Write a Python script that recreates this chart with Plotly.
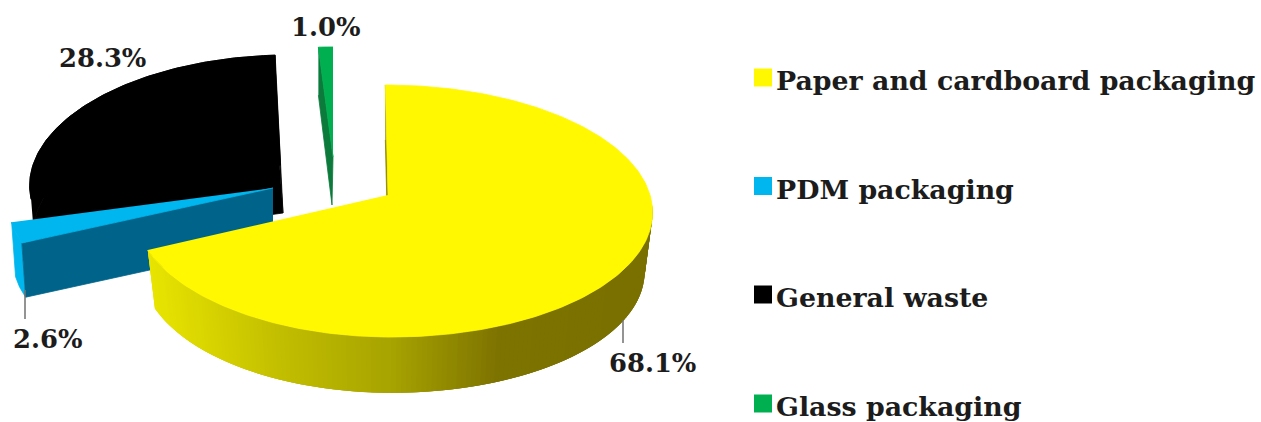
import numpy as np
import plotly.graph_objects as go

# Waste composition shares, in percent
categories = ["Paper and cardboard packaging", "PDM packaging", "General waste", "Glass packaging"]
shares = [68.1, 2.6, 28.3, 1.0]
top_colors = ["#FFF800", "#00B6EE", "#000000", "#00B050"]

WIDTH, HEIGHT = 1261, 422
KEY_FONT = dict(family="DejaVu Serif", size=26.8, color="#1c1c1c", weight="bold")
VALUE_FONT = dict(family="DejaVu Serif", size=25.8, color="#1c1c1c", weight="bold")

# Pie projection: a tilted disc seen in mild perspective
B, K = 124.0, 0.127
SLICE_GEOMETRY = [
    dict(ax=388, ay=195, left=252, right=262, lean=-3, wall=60, base=0.97),
    dict(ax=273, ay=188, left=262, right=262, lean=0, wall=55, base=0.985),
    dict(ax=281, ay=165, left=248, right=262, lean=9, wall=48, base=0.985),
    dict(ax=333, ay=157, left=262, right=262, lean=0, wall=48, base=1.0),
]

# Brightness of the paper slice's outer wall, left to right
WALL_X = [150, 275, 385, 494, 640]
WALL_RGB = [(232, 228, 0), (194, 190, 0), (168, 164, 0), (126, 116, 0), (122, 112, 0)]


def project(theta_deg, g, base=False):
    """Map a clockwise-from-top angle on the disc rim to chart coordinates."""
    t = np.radians(theta_deg)
    u, v = np.sin(t), np.cos(t)
    den = 1 + K * v
    px, py = u / den, v / den
    radius = np.where(px < 0, g["left"], g["right"])
    x = radius * px + g["lean"] * py
    y = -B * py
    if base:
        return g["ax"] + g["base"] * x, g["ay"] + g["wall"] + g["base"] * y
    return g["ax"] + x, g["ay"] + y


def polygon(fig, xs, ys, color, edge=0.8):
    fig.add_trace(go.Scatter(
        x=list(xs), y=list(ys), mode="lines", fill="toself", fillcolor=color,
        line=dict(color=color, width=edge), hoverinfo="skip", showlegend=False,
    ))


def arc(start, end, step=1.0):
    n = max(2, int(abs(end - start) / step) + 1)
    return np.linspace(start, end, n)


edges = np.concatenate([[0], np.cumsum(shares)]) * 3.6
spans = [(edges[i], edges[i + 1]) for i in range(len(shares))]

fig = go.Figure()

# General waste: the base, the wall and the top are the same black
g = SLICE_GEOMETRY[2]
a = arc(*spans[2])
tx, ty = project(a, g)
bx, by = project(a, g, base=True)
polygon(fig, np.r_[g["ax"] + 2, bx], np.r_[g["ay"] + g["wall"], by], top_colors[2])
polygon(fig, np.r_[tx, bx[::-1]], np.r_[ty, by[::-1]], top_colors[2])
polygon(fig, np.r_[g["ax"], tx], np.r_[g["ay"], ty], top_colors[2])
ex, ey = project(spans[2][1], g)
polygon(fig, [ex, g["ax"], g["ax"] + 2, ex], [ey, g["ay"], g["ay"] + g["wall"], ey + g["wall"]], top_colors[2])

# Glass: thin exploded sliver, its cut face shows under the top
g = SLICE_GEOMETRY[3]
a = arc(*spans[3])
tx, ty = project(a, g)
ex, ey = project(spans[3][0], g)
polygon(fig, [ex, g["ax"], g["ax"] - 1, ex], [ey, g["ay"], g["ay"] + g["wall"], ey + g["wall"]], "#0B7A3B")
polygon(fig, np.r_[g["ax"], tx], np.r_[g["ay"], ty], top_colors[3])

# PDM: outer wall, cut face, then top
g = SLICE_GEOMETRY[1]
a = arc(*spans[1])
tx, ty = project(a, g)
bx, by = project(a, g, base=True)
polygon(fig, np.r_[tx, bx[::-1]], np.r_[ty, by[::-1]], top_colors[1])
ex, ey = project(spans[1][0], g)
fx, fy = project(spans[1][0], g, base=True)
polygon(fig, [g["ax"], ex, fx, g["ax"]], [g["ay"], ey, fy, g["ay"] + g["wall"]], "#00648A")
polygon(fig, np.r_[g["ax"], tx], np.r_[g["ay"], ty], top_colors[1])

# Paper: shaded outer wall painted right to left in overlapping quads,
# thin far cut face, then top
g = SLICE_GEOMETRY[0]
sx, sy = project(spans[0][0], g)
polygon(fig, [sx, g["ax"], g["ax"], sx], [sy, g["ay"], g["ay"] + 55, sy + 55], "#8A8200")
steps = arc(94, spans[0][1], 1.0)
for a0, a1 in zip(steps[:-1], steps[1:]):
    ta = np.array([a0, min(a1 + 2.0, spans[0][1])])
    tx, ty = project(ta, g)
    bx, by = project(ta, g, base=True)
    mid = tx.mean()
    rgb = [int(np.interp(mid, WALL_X, [c[i] for c in WALL_RGB])) for i in range(3)]
    polygon(fig, np.r_[tx, bx[::-1]], np.r_[ty, by[::-1]], f"rgb({rgb[0]},{rgb[1]},{rgb[2]})", edge=0)
a = arc(*spans[0])
tx, ty = project(a, g)
polygon(fig, np.r_[g["ax"], tx], np.r_[g["ay"], ty], top_colors[0])

# Leader lines for the two lower value labels
for lx, ly in [((623, 623), (320, 343)), ((25, 25), (290, 319))]:
    fig.add_trace(go.Scatter(x=lx, y=ly, mode="lines", line=dict(color="#707070", width=1.5),
                             hoverinfo="skip", showlegend=False))

# Value labels
label_pos = [(652, 363), (47, 339), (102, 58), (325, 27)]
for value, (lx, ly) in zip(shares, label_pos):
    fig.add_annotation(x=lx, y=ly, text=f"{value:.1f}%", showarrow=False, font=VALUE_FONT,
                       xanchor="center", yanchor="middle")

# Key on the right
key_y = [77.5, 186, 294.5, 403.5]
for name, color, ky in zip(categories, top_colors, key_y):
    fig.add_trace(go.Scatter(x=[763], y=[ky], mode="markers", hoverinfo="skip", showlegend=False,
                             marker=dict(symbol="square", size=18, color=color, line=dict(width=0))))
    fig.add_annotation(x=774, y=ky + 3, text=name, showarrow=False, font=KEY_FONT,
                       xanchor="left", yanchor="middle")

hidden = dict(visible=False, fixedrange=True)
fig.update_layout(
    width=WIDTH, height=HEIGHT, autosize=False,
    margin=dict(l=0, r=0, t=0, b=0),
    paper_bgcolor="white", plot_bgcolor="white", showlegend=False,
    xaxis=dict(range=[0, WIDTH], **hidden),
    yaxis=dict(range=[HEIGHT, 0], **hidden),
)
fig.write_html("out.html", config=dict(displayModeBar=False))
